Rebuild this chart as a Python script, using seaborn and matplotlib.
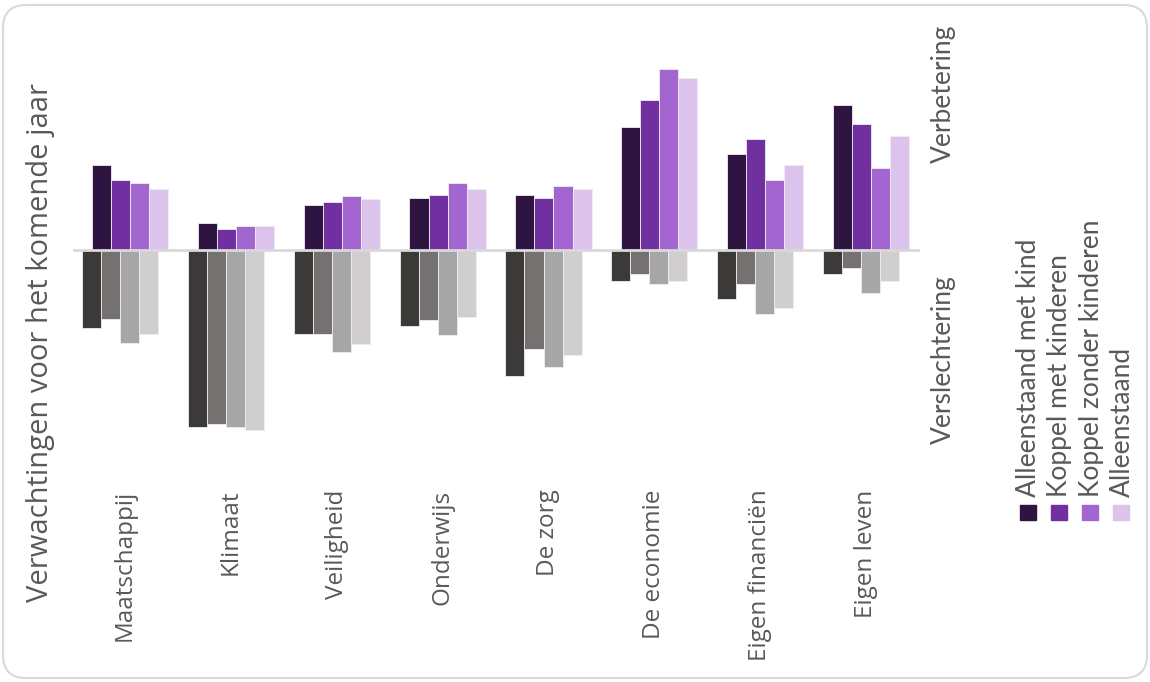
import numpy as np
import pandas as pd
import seaborn as sns
import matplotlib.pyplot as plt
from matplotlib.patches import Rectangle, FancyBboxPatch

# Data (share in %)
categories = ['Maatschappij', 'Klimaat', 'Veiligheid', 'Onderwijs', 'De zorg',
              'De economie', 'Eigen financiën', 'Eigen leven']
groups = ['Alleenstaand met kind', 'Koppel met kinderen', 'Koppel zonder kinderen', 'Alleenstaand']

# Verbetering per group (values per category)
better_alleen_kind = [28.5, 9.0, 15.0, 17.5, 18.5, 41.0, 32.0, 48.5]
better_koppel_kind = [23.5, 7.0, 16.0, 18.5, 17.5, 50.0, 37.0, 42.0]
better_koppel_zonder = [22.5, 8.0, 18.0, 22.5, 21.5, 60.5, 23.5, 27.5]
better_alleen = [20.5, 8.0, 17.0, 20.5, 20.5, 57.5, 28.5, 38.0]

# Verslechtering per group
worse_alleen_kind = [26.0, 59.0, 28.0, 25.5, 42.0, 10.5, 16.5, 8.0]
worse_koppel_kind = [23.0, 58.0, 28.0, 23.5, 33.0, 8.0, 11.5, 6.0]
worse_koppel_zonder = [31.0, 59.0, 34.0, 28.5, 39.0, 11.5, 21.5, 14.5]
worse_alleen = [28.0, 60.0, 31.5, 22.5, 35.0, 10.5, 19.5, 10.5]

purples = ['#2E1440', '#7030A0', '#A366D1', '#DCC3EC']
greys = ['#3B3A38', '#767171', '#A6A6A6', '#D0CECE']

txt_color = '#595959'

# long tables for seaborn
better = [better_alleen_kind, better_koppel_kind, better_koppel_zonder, better_alleen]
worse = [worse_alleen_kind, worse_koppel_kind, worse_koppel_zonder, worse_alleen]

shift = 0.047  # the improvement bars sit a bit right of the decline bars
rows = []
for g, vals in zip(groups, better):
    for i, v in enumerate(vals):
        rows.append({'pos': i + shift, 'groep': g, 'waarde': v})
df_better = pd.DataFrame(rows)

rows = []
for g, vals in zip(groups, worse):
    for i, v in enumerate(vals):
        rows.append({'pos': i - shift, 'groep': g, 'waarde': -v})
df_worse = pd.DataFrame(rows)

sns.set_style('white')
plt.rcParams['font.family'] = ['Open Sans', 'DejaVu Sans']

fig = plt.figure(figsize=(11.5, 6.82), dpi=100)
ax = fig.add_axes([73 / 1150, 1 - 480 / 682, 847 / 1150, 460 / 682])

sns.barplot(data=df_better, x='pos', y='waarde', hue='groep', hue_order=groups,
            palette=purples, native_scale=True, width=0.72, saturation=1,
            errorbar=None, legend=False, edgecolor='#EEEEEE', linewidth=0.6, ax=ax)
sns.barplot(data=df_worse, x='pos', y='waarde', hue='groep', hue_order=groups,
            palette=greys, native_scale=True, width=0.72, saturation=1,
            errorbar=None, legend=False, edgecolor='#EEEEEE', linewidth=0.6, ax=ax)

ax.axhline(0, color='#D9D9D9', lw=2, zorder=5)
ax.set_xlim(-0.491, 7.509)
ax.set_ylim(-76.7, 76.7)
for s in ax.spines.values():
    s.set_visible(False)
ax.set_yticks([])
ax.set_xticks(range(len(categories)))
ax.set_xticklabels(categories, rotation=90, fontsize=17.5, color=txt_color)
ax.tick_params(axis='x', length=0, pad=7)
ax.set_xlabel('')
ax.set_ylabel('Verwachtingen voor het komende jaar', fontsize=21, color=txt_color,
              va='center')
ax.yaxis.set_label_coords(-0.038, 0.3)

# side labels
side_font = ['Lato', 'DejaVu Sans']
fig.text(943 / 1150, 1 - 94 / 682, 'Verbetering', rotation=90, ha='center', va='center',
         fontsize=19, color=txt_color, family=side_font)
fig.text(943 / 1150, 1 - 360 / 682, 'Verslechtering', rotation=90, ha='center', va='center',
         fontsize=19, color=txt_color, family=side_font)

# legend, drawn by hand because the text is rotated
for k, (g, c) in enumerate(zip(groups, purples)):
    x0 = 1020 + k * 31
    fig.patches.append(Rectangle((x0 / 1150, 1 - 520 / 682), 16 / 1150, 15 / 682,
                                 transform=fig.transFigure, color=c))
    fig.text((x0 + 9) / 1150, 1 - 497 / 682, g, rotation=90, ha='center', va='bottom',
             fontsize=19, color=txt_color, family=side_font)

# rounded frame around the whole picture
fig.patches.append(FancyBboxPatch((3 / 1150, 4 / 682), 1144 / 1150, 673 / 682,
                                  boxstyle='round,pad=0,rounding_size=0.02',
                                  transform=fig.transFigure, fill=False,
                                  edgecolor='#D9D9D9', lw=1.5, mutation_aspect=1150 / 682))

fig.savefig('out.png', dpi=100)
